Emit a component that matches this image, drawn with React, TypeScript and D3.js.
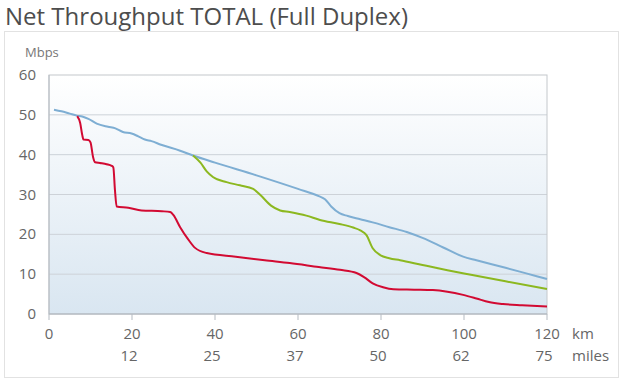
import React from "react";
import * as d3 from "d3";

const yTicks = [0, 10, 20, 30, 40, 50, 60];
const kmTicks = [0, 20, 40, 60, 80, 100, 120];
const mileLabels = ["", "12", "25", "37", "50", "62", "75"];

const blueKm = [1.2, 3, 5, 6.7, 8, 9.5, 11.5, 14.2, 16, 17.8, 19.9, 21.5, 23.1, 24.7, 27, 31.6, 34.7, 40, 50, 60, 65, 66.5, 68, 70, 72, 75, 78, 82, 86.2, 90, 95, 99.8, 103, 110, 115, 120];
const blueVal = [51.3, 50.9, 50.3, 49.8, 49.6, 49.0, 47.8, 47.0, 46.6, 45.7, 45.3, 44.6, 43.8, 43.4, 42.5, 41.0, 39.8, 38.0, 34.8, 31.4, 29.6, 28.8, 27.0, 25.3, 24.6, 23.8, 23.0, 21.8, 20.6, 19.1, 16.7, 14.4, 13.5, 11.6, 10.2, 8.8];

const greenKm = [34.7, 36.5, 38, 39.5, 42.8, 46, 49.2, 51, 53.5, 55.7, 58, 62, 65.3, 70, 73.3, 75, 76.5, 78, 79.8, 82, 84.6, 90, 96, 102, 110, 120];
const greenVal = [39.8, 38.0, 35.8, 34.4, 33.1, 32.3, 31.4, 29.8, 27.2, 26.0, 25.6, 24.7, 23.6, 22.6, 21.7, 21.0, 19.8, 16.5, 14.8, 14.0, 13.5, 12.3, 11.0, 9.8, 8.2, 6.3];

const redKm = [6.8, 7.5, 8.0, 8.3, 9.5, 10.0, 10.6, 11.1, 12.3, 13.9, 15.1, 15.5, 15.9, 16.3, 19.1, 22.3, 27.2, 29.2, 30.0, 31.6, 33.5, 35.2, 38.0, 45, 52, 58, 65, 70.1, 74.1, 76, 78, 80.5, 83, 88, 92.5, 96, 99.8, 103, 106, 109.4, 114, 120];
const redVal = [49.7, 48.0, 45.0, 43.8, 43.7, 43.1, 39.5, 38.1, 37.9, 37.6, 37.2, 36.8, 31.0, 27.0, 26.7, 26.0, 25.8, 25.6, 24.8, 21.8, 18.8, 16.6, 15.3, 14.4, 13.5, 12.8, 11.8, 11.1, 10.3, 9.2, 7.7, 6.7, 6.2, 6.1, 6.0, 5.6, 4.8, 3.9, 3.0, 2.5, 2.2, 1.9];

export default function App() {
  const W = 630, H = 382;
  const left = 49, right = 547, top = 75, bottom = 314;
  const x = d3.scaleLinear().domain([0, 120]).range([left, right]);
  const y = d3.scaleLinear().domain([0, 60]).range([bottom, top]);
  const line = d3.line<[number, number]>().x(d => x(d[0])).y(d => y(d[1])).curve(d3.curveMonotoneX);
  const mk = (a: number[], b: number[]) => a.map((v, i) => [v, b[i]] as [number, number]);
  const font = "'Open Sans', 'Noto Sans', sans-serif";
  const textColor = "#666";
  return (
    <svg width={W} height={H} style={{ position: "absolute", left: 0, top: 0 }} fontFamily={font}>
      <defs>
        <linearGradient id="bg" x1="0" y1="0" x2="0" y2="1">
          <stop offset="0" stopColor="#ffffff" />
          <stop offset="1" stopColor="#d9e6f1" />
        </linearGradient>
      </defs>
      <rect x={0} y={0} width={W} height={H} fill="#fff" />
      <text x={5} y={25} fontSize={23.5} fill="#4d4d4d" textLength={403} lengthAdjust="spacingAndGlyphs">Net Throughput TOTAL (Full Duplex)</text>
      <rect x={4.5} y={31.5} width={614} height={346} fill="#fff" stroke="#e2e2e2" strokeWidth={1} />
      <text x={25} y={57} fontSize={13} fill="#777">Mbps</text>
      <rect x={left} y={top} width={right - left} height={bottom - top} fill="url(#bg)" />
      {yTicks.filter(t => t > 0 && t < 60).map(t => (
        <line key={t} x1={left} x2={right} y1={y(t)} y2={y(t)} stroke="#cdd2d8" strokeWidth={1} />
      ))}
      <rect x={left} y={top} width={right - left} height={bottom - top} fill="none" stroke="#c4c8cc" strokeWidth={1} />
      <line x1={left} x2={right} y1={bottom} y2={bottom} stroke="#a9b0b8" strokeWidth={1} />
      <line x1={left} x2={left} y1={top} y2={bottom} stroke="#b5bbc2" strokeWidth={1} />
      {kmTicks.map(t => (
        <line key={t} x1={x(t)} x2={x(t)} y1={bottom} y2={bottom + 6} stroke="#b5bbc2" strokeWidth={1} />
      ))}
      {yTicks.map(t => (
        <text key={t} x={36} y={y(t) + 5} fontSize={15} fill={textColor} textAnchor="end">{t}</text>
      ))}
      {kmTicks.map((t, i) => (
        <g key={t}>
          <text x={x(t)} y={339} fontSize={15} fill={textColor} textAnchor="middle">{t}</text>
          {mileLabels[i] && (
            <text x={x(t) - 3} y={361} fontSize={15} fill={textColor} textAnchor="middle">{mileLabels[i]}</text>
          )}
        </g>
      ))}
      <text x={572} y={339} fontSize={15} fill={textColor}>km</text>
      <text x={572} y={361} fontSize={15} fill={textColor}>miles</text>
      <path d={line(mk(blueKm, blueVal)) || ""} fill="none" stroke="#7eaed3" strokeWidth={2} />
      <path d={line(mk(greenKm, greenVal)) || ""} fill="none" stroke="#8cb820" strokeWidth={2} />
      <path d={line(mk(redKm, redVal)) || ""} fill="none" stroke="#d20a32" strokeWidth={2} />
    </svg>
  );
}
